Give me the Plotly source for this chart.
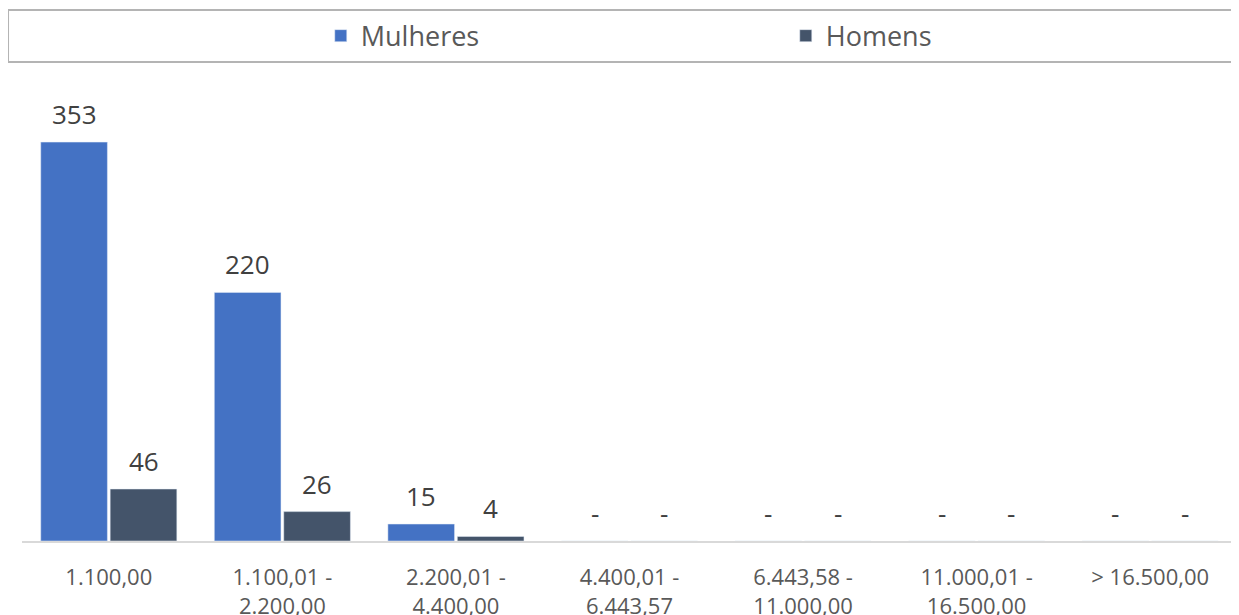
import plotly.graph_objects as go

categories = ["1.100,00", "1.100,01 -<br>2.200,00", "2.200,01 -<br>4.400,00",
              "4.400,01 -<br>6.443,57", "6.443,58 -<br>11.000,00",
              "11.000,01 -<br>16.500,00", "> 16.500,00"]
mulheres = [353, 220, 15, 0, 0, 0, 0]
homens = [46, 26, 4, 0, 0, 0, 0]

FONT = "Open Sans"
W, H = 1239, 615
ML, MR, MT, MB = 14, 10, 81, 82
plot_w = W - ML - MR
slot = plot_w / len(categories)
bargap = 0.2
offset = slot * (1 - bargap) / 4  # center offset of each bar in a group


def lab(v):
    return "-" if v == 0 else str(v)


fig = go.Figure()
fig.add_bar(name="Mulheres", x=categories, y=mulheres, marker=dict(color="#4472C4"))
fig.add_bar(name="Homens", x=categories, y=homens, marker=dict(color="#44546A"))

annotations = []
for series, sign in ((mulheres, -1), (homens, 1)):
    for c, v in zip(categories, series):
        annotations.append(dict(x=c, y=v, xref="x", yref="y", text=lab(v),
                                showarrow=False, xshift=sign * offset, yshift=8,
                                yanchor="bottom",
                                font=dict(family=FONT, size=26, color="#404040")))

fig.update_layout(
    width=W, height=H,
    margin=dict(l=ML, r=MR, t=MT, b=MB, autoexpand=False),
    paper_bgcolor="white", plot_bgcolor="white",
    barmode="group", bargap=bargap, bargroupgap=0.04,
    font=dict(family=FONT, color="#595959"),
    showlegend=True,
    legend=dict(orientation="h", x=0.2459, xanchor="left", y=1.117, yanchor="middle",
                entrywidth=420, entrywidthmode="pixels", traceorder="normal",
                bgcolor="rgba(0,0,0,0)", font=dict(family=FONT, size=27, color="#595959")),
    annotations=annotations,
    shapes=[dict(type="rect", xref="paper", yref="paper", x0=-0.0115, x1=1.01,
                 y0=1.0597, y1=1.1748, line=dict(color="#b4b4b4", width=2),
                 fillcolor="rgba(0,0,0,0)", layer="below")],
)
fig.update_xaxes(type="category", showline=True, linecolor="#d9d9d9", linewidth=2,
                 ticks="", ticklabelstandoff=16, showgrid=False, zeroline=False,
                 automargin=False, tickfont=dict(family=FONT, size=22, color="#595959"))
fig.update_yaxes(range=[0, 400], visible=False, showgrid=False, zeroline=False)

fig.write_html("out.html")
